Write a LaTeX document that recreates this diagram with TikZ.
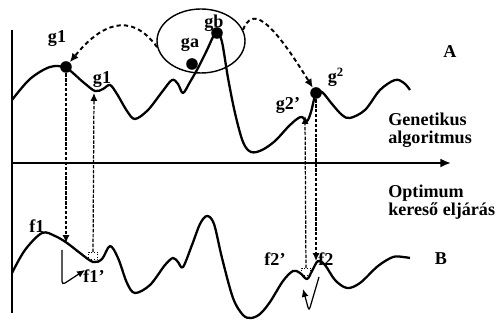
\documentclass[tikz,border=0pt]{standalone}
\usepackage{fontspec}
\setmainfont{Liberation Serif}
\usetikzlibrary{arrows.meta,shapes.geometric}

\begin{document}
\begin{tikzpicture}[x=0.02cm, y=-0.02cm,
  curve/.style={line width=1.3pt, line join=round},
  axis/.style={line width=1.1pt},
  dot/.style={circle, fill, inner sep=0pt, minimum size=6.6pt},
  lbl/.style={font=\fontsize{10.3}{9.8}\selectfont\bfseries, inner sep=0pt},
  txt/.style={lbl, align=left, anchor=north west},
  jump/.style={line width=1.1pt, dash pattern=on 2.4pt off 1.8pt, -{Latex[length=5pt, width=4.5pt]}},
  probe/.style={line width=0.7pt, dash pattern=on 2pt off 0.8pt, -{Latex[length=4.5pt, width=4pt]}},
  hook/.style={line width=0.7pt, rounded corners=2pt, -{Latex[length=4.5pt, width=4pt]}},
  spot/.style={draw, densely dotted, line width=0.5pt, inner sep=0pt, minimum width=5pt, minimum height=4pt}
]
\useasboundingbox (0,0) rectangle (497,323);

\draw[axis] (12,30) -- (12,313);
\draw[axis, -{Latex[length=6pt, width=5pt]}] (12,163) -- (451,163);

\draw[curve] plot[smooth, tension=0.55] coordinates {(12,100) (30,79) (50,67) (66,68) (83,82) (95,91) (103,89) (110,85) (117,94) (127,111) (135,119) (148,110) (162,92) (172,80) (178,84) (183,93) (190,82) (198,68) (207,50) (213,37) (217,32) (222,42) (228,78) (235,113) (243,142) (251,152) (262,150) (275,141) (288,127) (297,119) (302,117) (307,121) (311,112) (316,93) (322,92) (332,104) (342,115) (350,118) (365,110) (380,90) (395,80) (404,83) (410,90)};
\draw[curve] plot[smooth, tension=0.55] coordinates {(12,273) (25,250) (42,233) (55,236) (67,243) (80,253) (93,262) (102,259) (110,246) (118,258) (127,283) (135,293) (150,285) (165,265) (173,258) (178,262) (183,267) (192,245) (200,224) (207,216) (214,224) (222,258) (233,298) (243,315) (251,318) (260,314) (270,302) (283,281) (293,271) (300,273) (307,279) (312,271) (318,261) (325,265) (335,280) (347,288) (360,283) (378,266) (393,257) (403,257) (410,258)};

\node[draw, ellipse, line width=0.8pt, minimum width=1.76cm, minimum height=1.28cm] (pool) at (201,41) {};

\node[dot] (g1) at (66,67) {};
\node[dot] (ga) at (192,64) {};
\node[dot] (gb) at (217,33) {};
\node[dot] (g2) at (316,93) {};

\coordinate (f1) at (66,243);
\coordinate (g1b) at (94,93);
\coordinate (f1h) at (62,250);
\coordinate (f1e) at (85,270);
\node[spot] (f1s) at (93,256) {};

\coordinate (f2) at (316,261);
\coordinate (g2b) at (305,116);
\coordinate (f2h) at (319,277);
\coordinate (f2e) at (303,289);
\node[spot] (f2s) at (306,272) {};

\draw[jump] (pool.188) .. controls (130,10) and (100,25) .. (g1);
\draw[jump] (pool.15) .. controls (252,8) and (268,15) .. (g2);

\draw[probe] (g1) -- (f1);
\draw[hook] (f1h) -- ++(0,35) -- (f1e);
\draw[probe] (f1s) -- (g1b);

\draw[probe] (g2) -- (f2);
\draw[hook] (f2h) -- (309,311) -- (f2e);
\draw[probe] (f2s) -- (g2b);

\node[lbl] (lg1) at (57,39) {g1};
\node[lbl] (lg1b) at (102,80) {g1};
\node[lbl] (lga) at (190,45) {ga};
\node[lbl] (lgb) at (214,23) {gb};
\node[lbl] (lg2) at (336,77) {g\textsuperscript{2}};
\node[lbl] (lg2b) at (288,105) {g2'};
\node[lbl] (la) at (450,52) {A};
\node[lbl] (lf1) at (37,226) {f1};
\node[lbl] (lf1b) at (94,276) {f1'};
\node[lbl] (lf2b) at (275,259) {f2'};
\node[lbl] (lf2) at (326,259) {f2};
\node[lbl] (lb) at (441,259) {B};

\node[txt] (gen) at (388,113) {Genetikus\\algoritmus};
\node[txt] (opt) at (388,185) {Optimum\\kereső eljárás};
\end{tikzpicture}
\end{document}
